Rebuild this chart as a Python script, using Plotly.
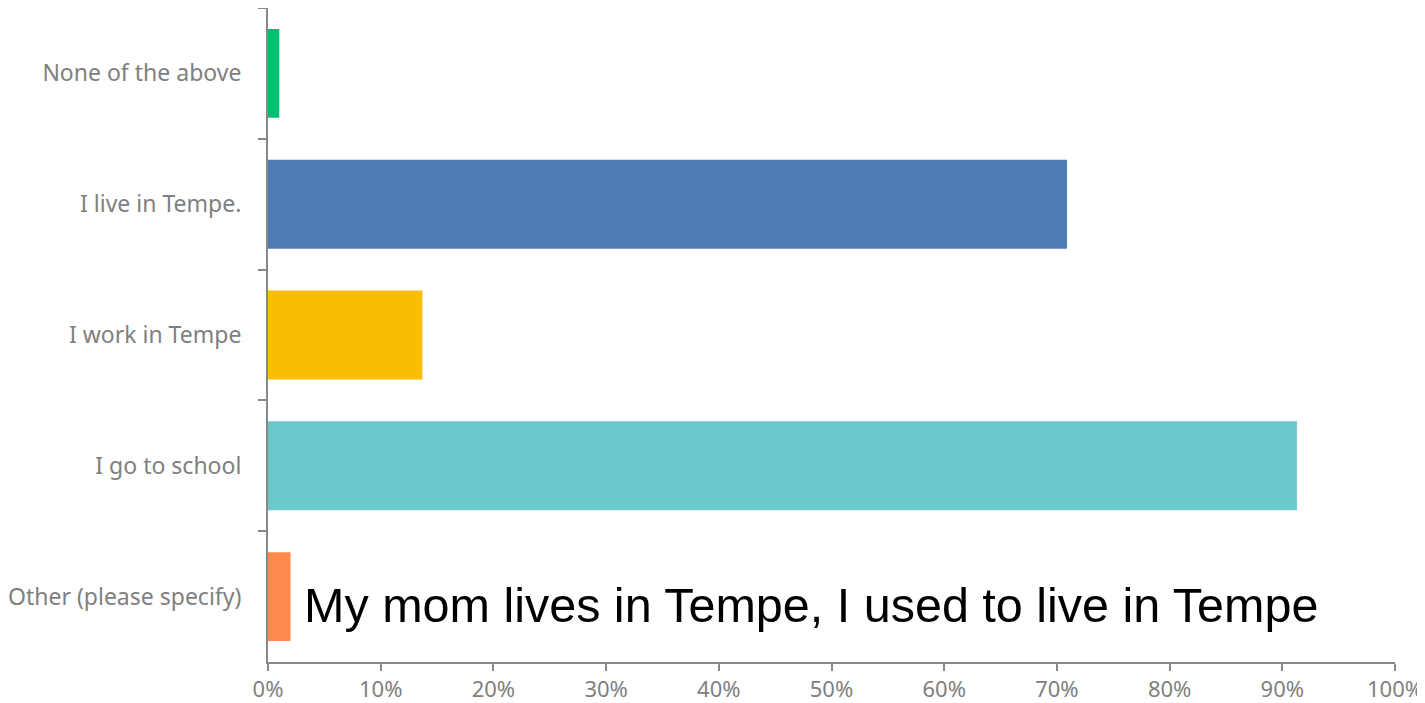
import plotly.graph_objects as go

categories = ["None of the above", "I live in Tempe.", "I work in Tempe", "I go to school", "Other (please specify)"]
values = [1.0, 70.9, 13.7, 91.3, 2.0]
colors = ["#00BF6F", "#507CB6", "#F9BE00", "#6BC8CD", "#FF8A4E"]
tick_vals = [0, 10, 20, 30, 40, 50, 60, 70, 80, 90, 100]
tick_text = [f"{v}%" for v in tick_vals]
other_note = "My mom lives in Tempe, I used to live in Tempe"

fig = go.Figure(go.Bar(
    x=values, y=categories, orientation="h",
    marker=dict(color=colors, line=dict(width=0)),
    width=0.68,
    hoverinfo="x+y",
))

fig.add_annotation(
    x=3.0, y="Other (please specify)", text=other_note,
    xanchor="left", yanchor="middle", showarrow=False, yshift=-8,
    font=dict(family="Liberation Sans, Arial", size=48.5, color="#000000"),
)

fig.update_xaxes(
    range=[0, 100], tickvals=tick_vals, ticktext=tick_text,
    showgrid=False, zeroline=False,
    showline=True, linecolor="#888888", linewidth=2,
    ticks="outside", ticklen=7, tickwidth=2, tickcolor="#888888",
    tickfont=dict(family="Noto Sans", size=22, color="#808080"),
)
fig.update_yaxes(
    autorange="reversed", showgrid=False, zeroline=False,
    showline=True, linecolor="#888888", linewidth=2,
    ticks="outside", ticklen=8, tickwidth=2, tickcolor="#888888",
    tickson="boundaries", ticklabelstandoff=20,
    tickfont=dict(family="Noto Sans", size=23, color="#808080"),
)

# page body adds an 8px offset, so margins are shifted to compensate
fig.update_layout(
    width=1417, height=695,
    margin=dict(l=253, r=30, t=0, b=35),
    plot_bgcolor="white", paper_bgcolor="white",
    showlegend=False,
)

fig.write_html("out.html")
